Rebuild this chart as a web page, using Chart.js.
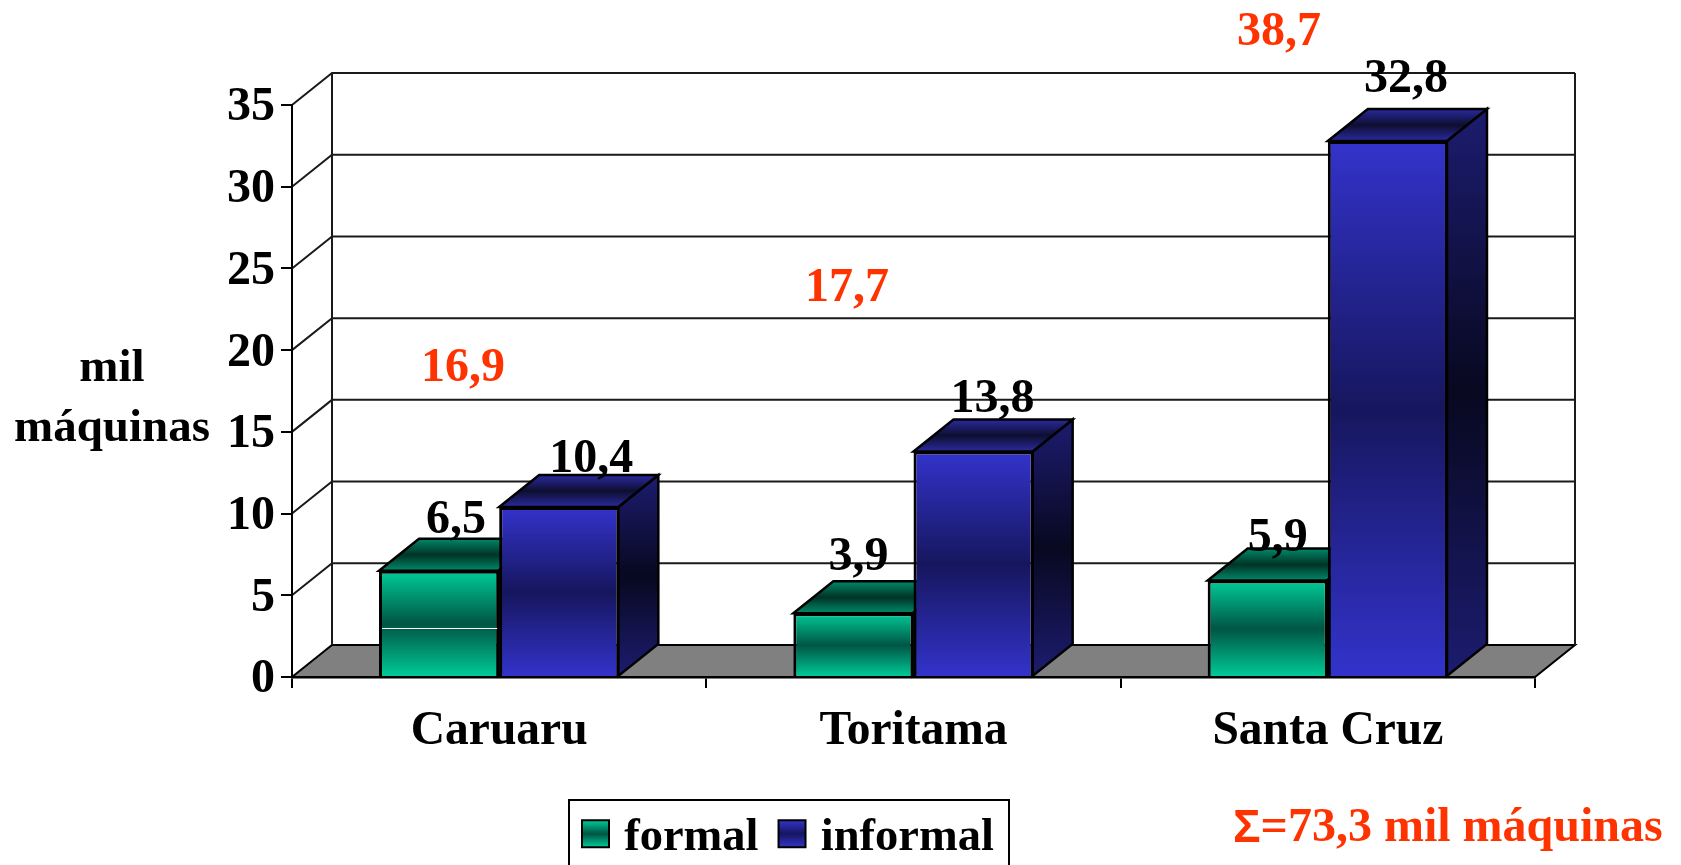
<!DOCTYPE html>
<html><head><meta charset="utf-8">
<style>html,body{margin:0;padding:0;background:#fff}canvas{display:block}</style>
<script src="https://cdn.jsdelivr.net/npm/chart.js@4/dist/chart.umd.min.js"></script>
</head><body><canvas id="c" width="1681" height="865"></canvas>
<script>
const categories = ['Caruaru', 'Toritama', 'Santa Cruz'];
const seriesNames = ['formal', 'informal'];
const formalValues = [6.5, 3.9, 5.9];
const informalValues = [10.4, 13.8, 32.8];
const totals = ['16,9', '17,7', '38,7'];
const formalLabels = ['6,5', '3,9', '5,9'];
const informalLabels = ['10,4', '13,8', '32,8'];
const yAxisLines = ['mil', 'máquinas'];
const grandTotalRest = '=73,3 mil máquinas';
const yMax = 35, yStep = 5;

const SERIF = '"Liberation Serif"';
const DX = 40, DY = 32;
const FONT = 'bold 48px ' + SERIF;
const palette = [
  {front:['#00cc99','#005544'], top:['#008a68','#003326'], side:['#005544','#002a20'], flat:'#00a07a'},
  {front:['#3333cc','#16165e'], top:['#2a2aa0','#0e0e30'], side:['#1c1c70','#080820'], flat:'#2626a0'}
];
const formalLabelNudge = [[17,-38],[5,-43],[10,-30]];
const informalLabelNudge = [[32,-35],[19,-39],[18,-49]];
const totalPlace = [[463,369],[847,289],[1279,33]];
const seamValue = 3.0;

function mirror(ctx, y0, y1, c){
  const g = ctx.createLinearGradient(0,y0,0,y1);
  g.addColorStop(0,c[0]); g.addColorStop(.5,c[1]); g.addColorStop(1,c[0]);
  return g;
}
function poly(ctx, pts, fill){
  ctx.beginPath(); pts.forEach((p,i)=> i?ctx.lineTo(p[0],p[1]):ctx.moveTo(p[0],p[1])); ctx.closePath();
  if(fill){ctx.fillStyle=fill;ctx.fill();}
  ctx.stroke();
}
function frontFill(i){
  return (c)=>{
    const ch=c.chart;
    if(!ch.chartArea||c.parsed==null) return palette[i].flat;
    const y=ch.scales.y;
    return mirror(ch.ctx,y.getPixelForValue(c.parsed.y),y.getPixelForValue(0),palette[i].front);
  };
}
const scene = {
  id:'scene',
  afterLayout(ch){
    const l=ch.legend; const w=l.width,h=l.height;
    l.left=562; l.right=562+w; l.top=794.5; l.bottom=794.5+h;
  },
  beforeDatasetsDraw(ch){
    const c=ch.ctx,y=ch.scales.y,a=ch.chartArea;
    c.save(); c.strokeStyle='#000'; c.lineWidth=2; c.lineJoin='miter';
    const y0=y.getPixelForValue(0), yT=y.getPixelForValue(yMax);
    poly(c,[[a.left,y0],[a.left+DX,y0-DY],[a.right+DX,y0-DY],[a.right,y0]],'#808080');
    c.strokeStyle='#1a1a1a';
    for(let v=yStep;v<=yMax;v+=yStep){
      const p=y.getPixelForValue(v);
      c.beginPath();c.moveTo(a.left,p);c.lineTo(a.left+DX,p-DY);c.lineTo(a.right+DX,p-DY);c.stroke();
    }
    c.beginPath();c.moveTo(a.left+DX,yT-DY);c.lineTo(a.left+DX,y0-DY);c.moveTo(a.right+DX,yT-DY);c.lineTo(a.right+DX,y0-DY);c.stroke();
    c.strokeStyle='#000';c.lineWidth=2.5;
    [0,1].forEach(ds=>{
      ch.getDatasetMeta(ds).data.forEach(el=>{
        const x0=el.x-el.width/2,x1=el.x+el.width/2,t=el.y,b=el.base,s=palette[ds];
        poly(c,[[x1-1,t],[x1-1+DX,t-DY],[x1-1+DX,b-DY],[x1-1,b]],mirror(c,t-DY,b,s.side));
        poly(c,[[x0,t],[x0+DX,t-DY],[x1-1+DX,t-DY],[x1-1,t]],mirror(c,t-DY,t,s.top));
      });
    });
    c.restore();
  },
  afterDatasetsDraw(ch){
    const c=ch.ctx,y=ch.scales.y;
    c.save();
    const el0=ch.getDatasetMeta(0).data[0];
    const sy=Math.round(y.getPixelForValue(seamValue))+.5;
    c.strokeStyle='#fff';c.lineWidth=1;
    c.beginPath();c.moveTo(el0.x-el0.width/2+3,sy);c.lineTo(el0.x+el0.width/2-2,sy);c.stroke();
    c.font=FONT;c.textAlign='center';c.textBaseline='alphabetic';c.fillStyle='#000';
    [[formalLabels,formalLabelNudge],[informalLabels,informalLabelNudge]].forEach((set,ds)=>{
      ch.getDatasetMeta(ds).data.forEach((el,i)=>{
        c.fillText(set[0][i],el.x+set[1][i][0],el.y+set[1][i][1]);
      });
    });
    c.fillStyle='#ff3300';c.textBaseline='middle';
    totals.forEach((t,i)=>c.fillText(t,totalPlace[i][0],totalPlace[i][1]));
    c.fillStyle='#000';
    c.font='bold 47px '+SERIF;
    c.fillText(yAxisLines[0],112,369);
    c.fillText(yAxisLines[1],112,429);
    c.textAlign='left';c.fillStyle='#ff3300';
    c.font='bold 46px "Liberation Sans"';
    c.fillText('Σ',1233,829);
    const sw=c.measureText('Σ').width;
    c.font=FONT;
    c.fillText(grandTotalRest,1233+sw,829);
    c.restore();
  },
  afterDraw(ch){
    const c=ch.ctx,l=ch.legend;
    c.save();c.strokeStyle='#000';c.lineWidth=2;
    c.strokeRect(569,800,440,80);
    l.legendHitBoxes.forEach((h,i)=>{
      const cy=h.top+h.height/2-4, top=cy-13.5;
      c.fillStyle=mirror(c,top,top+27,palette[i].front);
      c.fillRect(h.left,top,27,27);c.strokeRect(h.left,top,27,27);
    });
    c.restore();
  }
};
Chart.defaults.font.family = SERIF;
new Chart(document.getElementById('c'),{
  type:'bar',
  data:{labels:categories,datasets:[
    {label:seriesNames[0],data:formalValues,backgroundColor:frontFill(0),borderColor:'#000',borderWidth:3},
    {label:seriesNames[1],data:informalValues,backgroundColor:frontFill(1),borderColor:'#000',borderWidth:3}
  ]},
  options:{
    responsive:false,animation:false,
    layout:{padding:{left:0,top:105,right:146,bottom:0}},
    datasets:{bar:{categoryPercentage:0.58,barPercentage:1}},
    plugins:{
      tooltip:{enabled:false},
      legend:{display:true,position:'bottom',align:'start',
        labels:{boxWidth:19,boxHeight:19,padding:20,color:'#000',font:{size:46.5,weight:'bold',family:SERIF},
          generateLabels:ch=>ch.data.datasets.map((d,i)=>({text:d.label,fillStyle:palette[i].flat,strokeStyle:'#000',lineWidth:1,datasetIndex:i,hidden:false}))}}
    },
    scales:{
      x:{afterFit:s=>{s.height=188-s.chart.legend.height},offset:true,
        grid:{display:true,drawOnChartArea:false,drawTicks:true,tickLength:11,color:'#000',lineWidth:2,offset:true,z:1},
        border:{display:true,color:'#000',width:2.5,z:1},
        ticks:{padding:15,color:'#000',maxRotation:0,autoSkip:false,font:{size:47.5,weight:'bold',family:SERIF}}},
      y:{min:0,max:yMax,afterFit:s=>{s.width=292},
        grid:{display:true,drawOnChartArea:false,drawTicks:true,tickLength:11,color:'#000',lineWidth:2,z:1},
        border:{display:true,color:'#000',width:2,z:1},
        ticks:{stepSize:yStep,padding:6,labelOffset:3,color:'#000',font:{size:48,weight:'bold',family:SERIF}}}
    }
  },
  plugins:[scene]
});
</script></body></html>
